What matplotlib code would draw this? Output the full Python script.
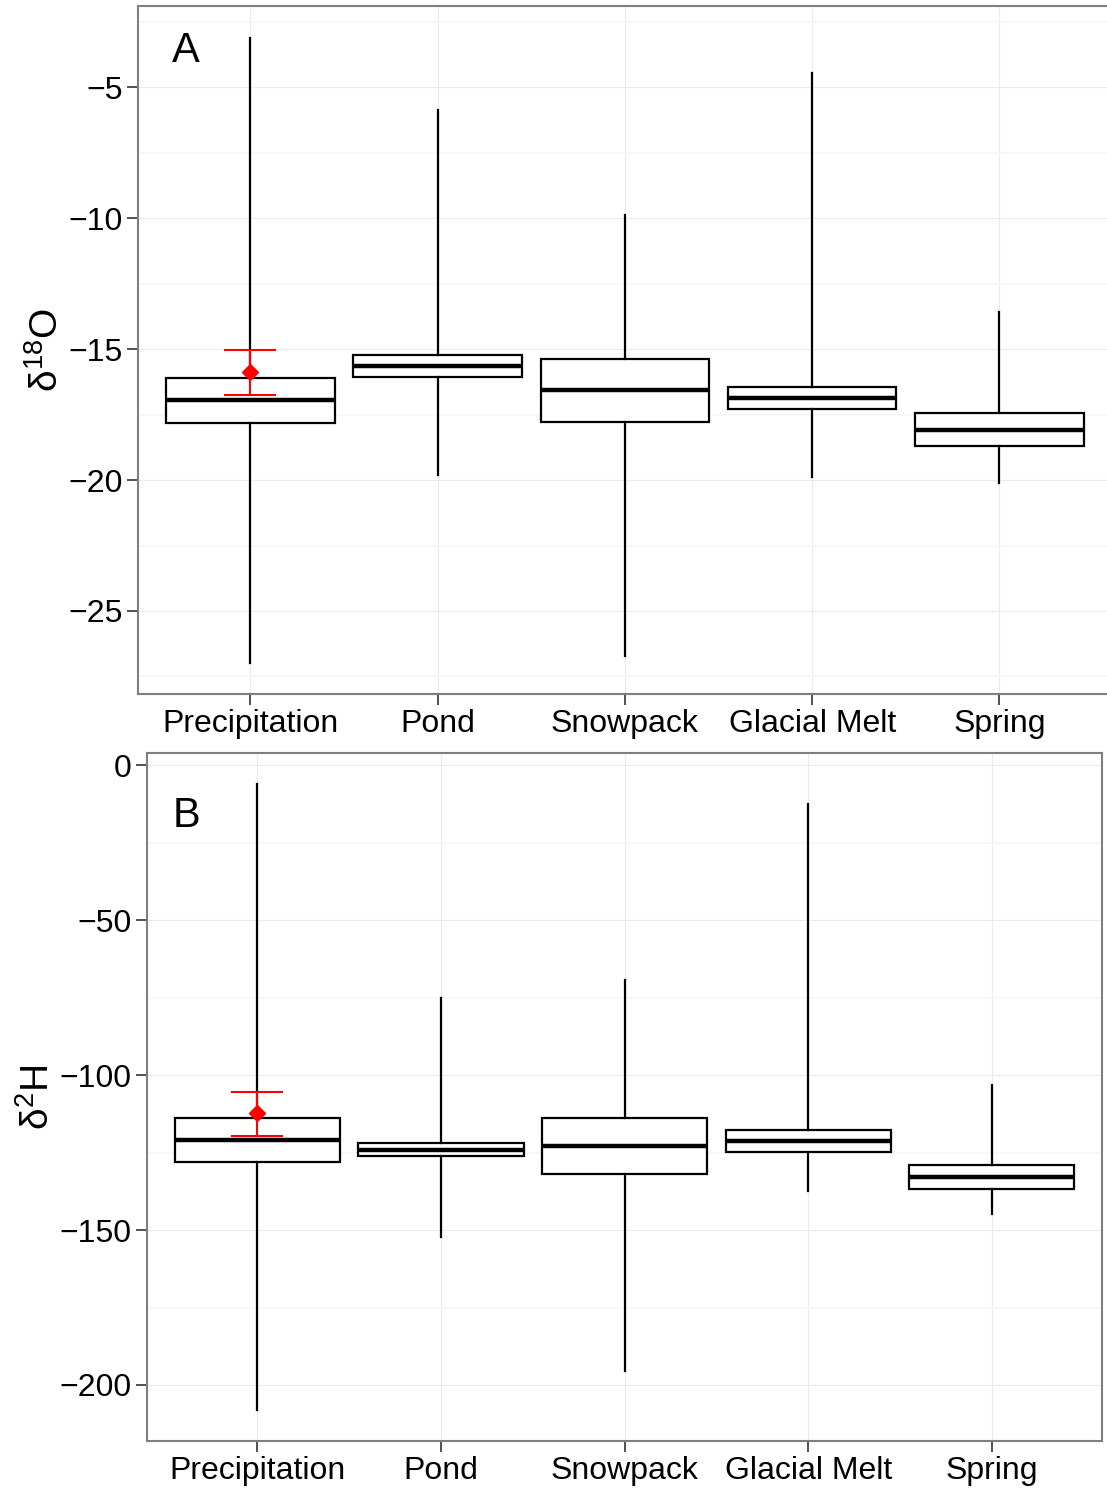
import matplotlib
matplotlib.use("Agg")
import matplotlib.pyplot as plt
from matplotlib.ticker import MultipleLocator

plt.rcParams["font.family"] = ["Liberation Sans", "DejaVu Sans"]
plt.rcParams["mathtext.fontset"] = "custom"
plt.rcParams["mathtext.rm"] = "Liberation Sans"
plt.rcParams["mathtext.it"] = "Liberation Sans"

sources = ["Precipitation", "Pond", "Snowpack", "Glacial Melt", "Spring"]

# delta 18O summaries per source
o18_whislo = [-26.98, -19.81, -26.72, -19.89, -20.11]
o18_q1 = [-17.82, -16.07, -17.79, -17.29, -18.70]
o18_med = [-16.95, -15.65, -16.56, -16.87, -18.09]
o18_q3 = [-16.11, -15.23, -15.38, -16.45, -17.44]
o18_whishi = [-3.13, -5.88, -9.89, -4.47, -13.59]
o18_precip_mean = -15.88
o18_precip_err = (-16.76, -15.04)

# delta 2H summaries per source
h2_whislo = [-208.1, -152.3, -195.5, -137.4, -144.8]
h2_q1 = [-128.1, -126.1, -131.9, -124.8, -136.8]
h2_med = [-121.0, -124.2, -122.9, -121.3, -132.9]
h2_q3 = [-113.9, -121.9, -113.9, -117.7, -129.0]
h2_whishi = [-6.1, -75.2, -69.4, -12.6, -103.2]
h2_precip_mean = -112.3
h2_precip_err = (-119.7, -105.5)


def panel(ax, lo, q1, med, q3, hi, mean, err, ylim, major, ylabel, letter,
          letter_xy):
    stats = [dict(whislo=a, q1=b, med=c, q3=d, whishi=e, fliers=[])
             for a, b, c, d, e in zip(lo, q1, med, q3, hi)]
    pos = range(1, len(sources) + 1)
    ax.bxp(stats, positions=pos, widths=0.9, showcaps=False, patch_artist=True,
           boxprops=dict(facecolor="white", edgecolor="black", linewidth=1.6),
           medianprops=dict(color="black", linewidth=3.2),
           whiskerprops=dict(color="black", linewidth=1.6), zorder=3)

    # mean +/- error for precipitation
    ax.errorbar([1], [mean], yerr=[[mean - err[0]], [err[1] - mean]],
                fmt="D", color="red", ms=8.5, elinewidth=1.5, capsize=19,
                capthick=1.5, zorder=5)

    ax.set_xlim(0.4, 5.6)
    ax.set_ylim(*ylim)
    ax.set_xticks(list(pos))
    ax.set_xticklabels(sources)
    ax.yaxis.set_major_locator(MultipleLocator(major))
    ax.yaxis.set_minor_locator(MultipleLocator(major / 2))
    ax.grid(which="major", color="#EBEBEB", linewidth=0.8, zorder=0)
    ax.grid(which="minor", axis="y", color="#F7F7F7", linewidth=1.2, zorder=0)
    ax.set_axisbelow(True)
    ax.tick_params(axis="both", which="major", labelsize=23, length=8,
                   width=1.2, color="#333333", pad=3)
    ax.tick_params(which="minor", length=0)
    ax.yaxis.set_major_formatter(
        matplotlib.ticker.FuncFormatter(lambda v, p: f"{v:g}".replace("-", "\u2212")))
    for s in ax.spines.values():
        s.set_color("#7F7F7F")
        s.set_linewidth(1.5)
    ax.set_ylabel(ylabel, fontsize=28, labelpad=2)
    ax.text(*letter_xy, letter, transform=ax.transAxes, fontsize=30,
            ha="center", va="center")


fig = plt.figure(figsize=(11.07, 14.90), dpi=100)
ax_a = fig.add_axes([0.1247, 0.5342, 0.8796, 0.4617])
ax_b = fig.add_axes([0.1328, 0.0329, 0.8627, 0.4617])

panel(ax_a, o18_whislo, o18_q1, o18_med, o18_q3, o18_whishi,
      o18_precip_mean, o18_precip_err, (-28.17, -1.91), 5,
      r"$\mathregular{\delta^{18}O}$", "A", (0.049, 0.935))
panel(ax_b, h2_whislo, h2_q1, h2_med, h2_q3, h2_whishi,
      h2_precip_mean, h2_precip_err, (-218.06, 3.87), 50,
      r"$\mathregular{\delta^{2}H}$", "B", (0.041, 0.908))

fig.savefig("out.png", dpi=100)
